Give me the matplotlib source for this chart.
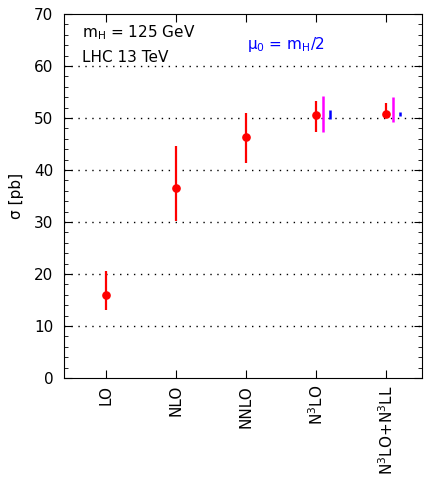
import matplotlib
matplotlib.use("Agg")
import matplotlib.pyplot as plt
from matplotlib.ticker import MultipleLocator

categories = ["LO", "NLO", "NNLO", "N$^3$LO", "N$^3$LO+N$^3$LL"]
central = [16.0, 36.5, 46.3, 50.6, 50.8]
err_lo = [13.0, 30.2, 41.3, 47.4, 50.1]
err_hi = [20.5, 44.7, 50.9, 53.3, 52.8]

# magenta and blue bands for the last two orders
band_idx = [3, 4]
mag_lo = [47.4, 49.3]
mag_hi = [54.3, 54.0]
blue_lo = [49.8, 50.4]
blue_hi = [51.5, 51.1]

fig = plt.figure(figsize=(4.26, 4.79), dpi=100)
ax = fig.add_axes([0.150, 0.2109, 0.8406, 0.7599])

x = list(range(1, len(categories) + 1))
yerr = [[c - l for c, l in zip(central, err_lo)], [h - c for c, h in zip(central, err_hi)]]
ax.errorbar(x, central, yerr=yerr, fmt='o', color='red', ms=5.2, lw=1.6, capsize=0, zorder=5)

for i, lo, hi in zip(band_idx, mag_lo, mag_hi):
    ax.vlines(x[i] + 0.1, lo, hi, color='magenta', lw=1.8, zorder=4)
for i, lo, hi in zip(band_idx, blue_lo, blue_hi):
    ax.vlines(x[i] + 0.2, lo, hi, color='blue', lw=1.8, zorder=4)

ax.set_xlim(0.4, 5.51)
ax.set_ylim(0, 70)
ax.set_xticks(x)
ax.set_xticklabels(categories, rotation=90, fontsize=11)
ax.yaxis.set_major_locator(MultipleLocator(10))
ax.yaxis.set_minor_locator(MultipleLocator(2))
ax.tick_params(axis='both', which='both', direction='in', top=True, right=True)
ax.tick_params(axis='both', which='major', length=6, labelsize=11)
ax.tick_params(axis='y', which='major', pad=7.5)
ax.tick_params(axis='x', which='major', pad=5)
ax.tick_params(axis='y', which='minor', length=3)
ax.tick_params(axis='y', which='both', labelright=False)
for yv in range(10, 70, 10):
    ax.axhline(yv, color='black', ls=(0, (1, 4)), lw=1.0, zorder=1)

ax.set_ylabel("σ [pb]", fontsize=11, labelpad=7)
ax.text(0.05, 0.948, "m$_\\mathrm{H}$ = 125 GeV", transform=ax.transAxes, fontsize=11, va='center')
ax.text(0.05, 0.880, "LHC 13 TeV", transform=ax.transAxes, fontsize=11, va='center')
ax.text(0.51, 0.915, "μ$_0$ = m$_\\mathrm{H}$/2", transform=ax.transAxes, fontsize=11, va='center', color='blue')

fig.savefig("out.png", dpi=100)
